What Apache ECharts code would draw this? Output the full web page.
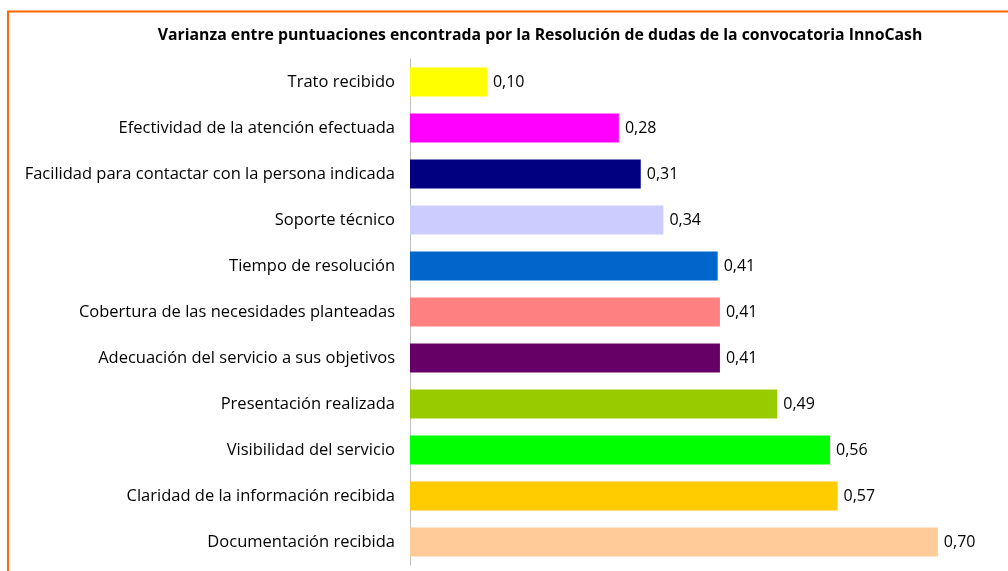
<!DOCTYPE html>
<html>
<head>
<meta charset="utf-8">
<script src="https://cdn.jsdelivr.net/npm/echarts@6/dist/echarts.min.js"></script>
<style>html,body{margin:0;padding:0;background:#fff}#c{width:1008px;height:571px}</style>
</head>
<body>
<div id="c"></div>
<script>
var categories = [
  "Trato recibido",
  "Efectividad de la atención efectuada",
  "Facilidad para contactar con la persona indicada",
  "Soporte técnico",
  "Tiempo de resolución",
  "Cobertura de las necesidades planteadas",
  "Adecuación del servicio a sus objetivos",
  "Presentación realizada",
  "Visibilidad del servicio",
  "Claridad de la información recibida",
  "Documentación recibida"
];
var values = [0.102, 0.277, 0.306, 0.336, 0.408, 0.411, 0.411, 0.487, 0.557, 0.567, 0.70];
var colors = ["#FFFF00", "#FF00FF", "#000080", "#CCCCFF", "#0066CC", "#FF8080", "#660066", "#99CC00", "#00FF00", "#FFCC00", "#FFCC99"];
var titleText = "Varianza entre puntuaciones encontrada por la Resolución de dudas de la convocatoria InnoCash";

var font = "'Open Sans', 'Noto Sans', sans-serif";
var chart = echarts.init(document.getElementById('c'));
chart.setOption({
  animation: false,
  title: {
    text: titleText,
    left: 535, top: 22, textAlign: 'center',
    textStyle: {fontFamily: font, fontSize: 15.8, fontWeight: 'bold', color: '#000'}
  },
  graphic: [{
    type: 'rect', shape: {x: 8, y: 11.5, width: 1200, height: 1000},
    style: {fill: 'none', stroke: '#FF6600', lineWidth: 2}
  }],
  grid: {left: 410, right: 0, top: 59, bottom: 6, containLabel: false},
  xAxis: {
    type: 'value', min: 0, max: 0.793, show: false
  },
  yAxis: {
    type: 'category', inverse: true, data: categories,
    axisLine: {show: true, lineStyle: {color: '#BFBFBF', width: 1}},
    axisTick: {show: false},
    axisLabel: {fontFamily: font, fontSize: 16.5, color: '#000', margin: 15}
  },
  series: [{
    type: 'bar',
    data: values.map(function (v, i) { return {value: v, itemStyle: {color: colors[i]}}; }),
    barCategoryGap: '37%',
    label: {
      show: true, position: 'right', distance: 6,
      fontFamily: font, fontSize: 16, color: '#000',
      formatter: function (p) { return p.value.toFixed(2).replace('.', ','); }
    }
  }]
});
</script>
</body>
</html>
